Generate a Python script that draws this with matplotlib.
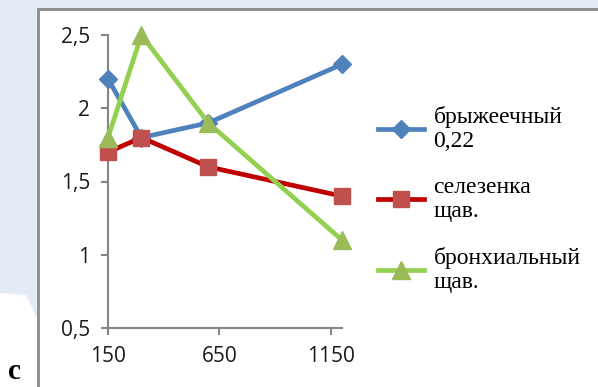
import matplotlib
matplotlib.use("Agg")
import matplotlib.pyplot as plt
from matplotlib.patches import Rectangle, Polygon
from matplotlib.lines import Line2D

# Data
x_vals = [150, 300, 600, 1200]
bryzh = [2.2, 1.8, 1.9, 2.3]
selez = [1.7, 1.8, 1.6, 1.4]
bronh = [1.8, 2.5, 1.9, 1.1]
x_ticks = [150, 650, 1150]
y_ticks = [0.5, 1.0, 1.5, 2.0, 2.5]
labels = ["брыжеечный\n0,22", "селезенка\nщав.", "бронхиальный\nщав."]

W, H = 598, 387
fig = plt.figure(figsize=(W / 100, H / 100), dpi=100)
fig.patch.set_facecolor("#E4EBF6")

# page background pieces and the chart frame
fig.patches.append(Polygon([(0, 0), (0, (H - 293) / H), (26 / W, (H - 295) / H),
                            (37 / W, (H - 318) / H), (37 / W, 0)],
                           closed=True, transform=fig.transFigure,
                           facecolor="white", edgecolor="none", zorder=0))
fig.patches.append(Rectangle((38 / W, -0.01), 1.0, (H - 9) / H + 0.01,
                             transform=fig.transFigure, facecolor="white",
                             edgecolor="#8A8A8A", linewidth=2.0, zorder=0))

ax = fig.add_axes([108 / W, 1 - 328 / H, (342 - 108) / W, (328 - 35) / H])
ax.set_zorder(2)
ax.set_facecolor("none")

ax.plot(x_vals, bryzh, color="#4F81BD", lw=3.4, marker="D", ms=9.5,
        mfc="#4F81BD", mec="#4F81BD", zorder=3, clip_on=False)
ax.plot(x_vals, selez, color="#C00000", lw=3.4, marker="s", ms=11.5,
        mfc="#C0504D", mec="#C0504D", zorder=4, clip_on=False)
ax.plot(x_vals, bronh, color="#92D050", lw=3.4, marker="^", ms=12.5,
        mfc="#9BBB59", mec="#9BBB59", zorder=5, clip_on=False)

ax.set_xlim(150, 1200)
ax.set_ylim(0.5, 2.5)
ax.set_xticks(x_ticks)
ax.set_yticks(y_ticks)
ax.set_yticklabels([f"{v:g}".replace(".", ",") for v in y_ticks])
ax.set_xticklabels([str(v) for v in x_ticks])
for s in ["top", "right"]:
    ax.spines[s].set_visible(False)
for s in ["left", "bottom"]:
    ax.spines[s].set_color("#868686")
    ax.spines[s].set_linewidth(1.5)
    ax.spines[s].set_zorder(1)
ax.tick_params(axis="both", direction="out", length=5, width=1.5, color="#868686",
               labelsize=15, labelcolor="#1A1A1A")
ax.tick_params(axis="y", pad=8)
ax.tick_params(axis="x", pad=8)
for lab in ax.get_xticklabels() + ax.get_yticklabels():
    lab.set_fontfamily("Open Sans")

handles = [
    Line2D([], [], color="#4F81BD", lw=3.4, marker="D", ms=9.5, mfc="#4F81BD", mec="#4F81BD"),
    Line2D([], [], color="#C00000", lw=3.4, marker="s", ms=11.5, mfc="#C0504D", mec="#C0504D"),
    Line2D([], [], color="#92D050", lw=3.4, marker="^", ms=12.5, mfc="#9BBB59", mec="#9BBB59"),
]
leg = fig.legend(handles, labels, loc="upper left", bbox_to_anchor=(378 / W, 1 - 106 / H),
                 frameon=False, handlelength=1.95, handletextpad=0.4, labelspacing=1.05,
                 borderpad=0.0, borderaxespad=0.0,
                 prop={"family": "Liberation Serif", "size": 17})
leg.set_zorder(3)

fig.text(8 / W, 1 - 379 / H, "c", fontfamily="Liberation Serif", fontweight="bold",
         fontsize=21, va="baseline", ha="left")

fig.savefig("out.png", dpi=100)
